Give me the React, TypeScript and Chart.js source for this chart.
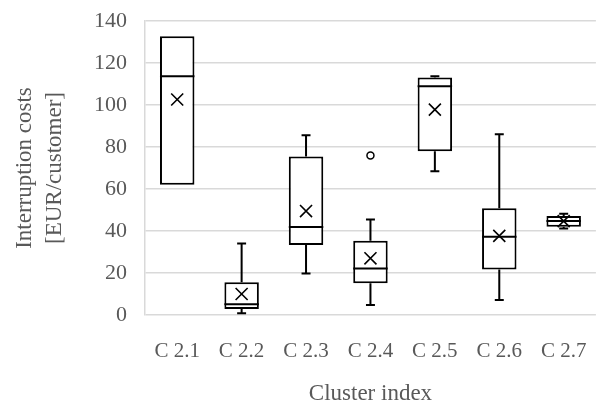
import React, { useEffect, useRef } from "react";
import { Chart, registerables } from "chart.js";

Chart.register(...registerables);

const categories = ["C 2.1", "C 2.2", "C 2.3", "C 2.4", "C 2.5", "C 2.6", "C 2.7"];
const minValues = [62, 0.8, 19.8, 4.8, 68.5, 7.1, 41.2];
const q1Values = [62, 2.9, 33.3, 15.1, 78.0, 21.7, 42.0];
const medianValues = [113.7, 5.1, 41.9, 22.2, 108.9, 37.3, 44.8];
const q3Values = [132.7, 15.6, 75.5, 35.4, 113.1, 50.8, 47.2];
const maxValues = [132.7, 34.1, 85.6, 45.5, 113.7, 86.1, 48.2];
const meanValues = [102.6, 10.0, 49.5, 27.0, 97.8, 37.7, 44.7];
const outlierValues = [null, null, null, 76.0, null, null, null];
const yTicks = [0, 20, 40, 60, 80, 100, 120, 140];

const FONT = "'Liberation Serif', 'Times New Roman', serif";
const TEXT = "#595959";
const GRID = "#d9d9d9";

const whiskerPlugin = {
  id: "whiskers",
  afterDatasetDraw(chart: any, args: any) {
    if (args.meta.type !== "bar") return;
    const ctx = chart.ctx;
    const y = chart.scales.y;
    ctx.save();
    ctx.strokeStyle = "#000";
    ctx.lineWidth = 2;
    args.meta.data.forEach((bar: any, i: number) => {
      const x = bar.x;
      const half = bar.width / 2;
      const cap = bar.width * 0.13;
      const yMin = y.getPixelForValue(minValues[i]);
      const yQ1 = y.getPixelForValue(q1Values[i]);
      const yQ3 = y.getPixelForValue(q3Values[i]);
      const yMax = y.getPixelForValue(maxValues[i]);
      const yMed = y.getPixelForValue(medianValues[i]);
      ctx.beginPath();
      ctx.moveTo(x - half, yMed);
      ctx.lineTo(x + half, yMed);
      if (maxValues[i] > q3Values[i]) {
        ctx.moveTo(x, yQ3);
        ctx.lineTo(x, yMax);
        ctx.moveTo(x - cap, yMax);
        ctx.lineTo(x + cap, yMax);
      }
      if (minValues[i] < q1Values[i]) {
        ctx.moveTo(x, yQ1);
        ctx.lineTo(x, yMin);
        ctx.moveTo(x - cap, yMin);
        ctx.lineTo(x + cap, yMin);
      }
      ctx.stroke();
    });
    ctx.restore();
  },
};

export default function App() {
  const ref = useRef<HTMLCanvasElement>(null);
  useEffect(() => {
    document.body.style.margin = "0";
    const chart = new Chart(ref.current as HTMLCanvasElement, {
      type: "bar",
      data: {
        labels: categories,
        datasets: [
          {
            type: "line",
            label: "Mean",
            data: meanValues,
            showLine: false,
            pointStyle: "crossRot",
            pointRadius: 8.5,
            pointBorderColor: "#000",
            pointBorderWidth: 1.6,
            pointBackgroundColor: "#000",
            order: 0,
          } as any,
          {
            type: "line",
            label: "Outliers",
            data: outlierValues,
            showLine: false,
            pointStyle: "circle",
            pointRadius: 3.5,
            pointBorderColor: "#000",
            pointBorderWidth: 1.5,
            pointBackgroundColor: "#fff",
            order: 0,
          } as any,
          {
            type: "bar",
            label: "Box",
            data: categories.map((_, i) => [q1Values[i], q3Values[i]]),
            backgroundColor: "#fff",
            borderColor: "#000",
            borderWidth: 2,
            borderSkipped: false,
            barPercentage: 0.535,
            categoryPercentage: 1,
            grouped: false,
            order: 1,
          } as any,
        ],
      },
      options: {
        animation: false,
        responsive: false,
        maintainAspectRatio: false,
        layout: { padding: { top: 21, right: 3, left: 0, bottom: 0 } },
        plugins: { legend: { display: false }, tooltip: { enabled: false } },
        scales: {
          x: {
            type: "category",
            grid: { display: false, drawTicks: false },
            border: { display: false },
            ticks: { color: TEXT, font: { family: FONT, size: 21 }, padding: 24 },
            title: {
              display: true,
              text: "Cluster index",
              color: TEXT,
              font: { family: FONT, size: 23 },
              padding: { top: 15, bottom: 0 },
            },
            afterFit(scale: any) {
              scale.height = 93;
              scale.paddingLeft = 0;
              scale.paddingRight = 0;
            },
          },
          y: {
            min: 0,
            max: 140,
            afterBuildTicks(scale: any) {
              scale.ticks = yTicks.map((v) => ({ value: v }));
            },
            grid: { color: GRID, lineWidth: 1.5, drawTicks: false },
            border: { display: true, color: GRID, width: 1.5 },
            ticks: { color: TEXT, font: { family: FONT, size: 22 }, padding: 18 },
            title: {
              display: true,
              text: ["Interruption costs", "[EUR/customer]"],
              color: TEXT,
              font: { family: FONT, size: 23, lineHeight: 1.3 },
              padding: { top: 10, bottom: 0 },
            },
            afterFit(scale: any) {
              scale.width = 145;
              scale.paddingTop = 0;
              scale.paddingBottom = 0;
            },
          },
        },
      },
      plugins: [whiskerPlugin],
    });
    return () => chart.destroy();
  }, []);
  return (
    <div style={{ position: "absolute", left: 0, top: 0, width: 606, height: 408, background: "#fff" }}>
      <canvas ref={ref} width={606} height={408} style={{ width: 606, height: 408 }} />
    </div>
  );
}
